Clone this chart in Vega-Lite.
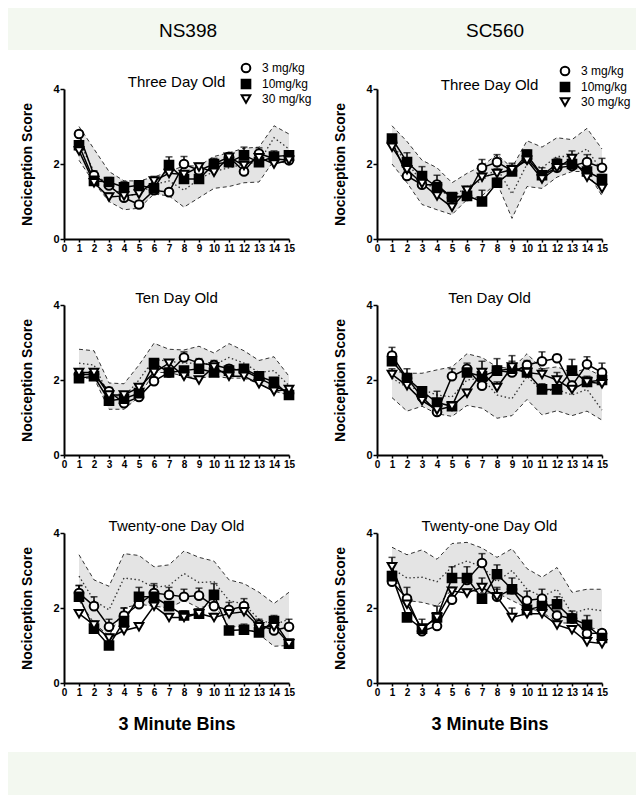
{
"$schema": "https://vega.github.io/schema/vega-lite/v6.json",
"padding": {"left": 8, "right": 8, "top": 8, "bottom": 6},
"background": "white",
"datasets": {
"band": [
{"p":"NS3","b":1,"lo":2.1,"mid":2.6,"hi":3.0},{"p":"NS3","b":2,"lo":1.5,"mid":1.8,"hi":2.4},{"p":"NS3","b":3,"lo":1.0,"mid":1.4,"hi":1.8},{"p":"NS3","b":4,"lo":0.78,"mid":1.15,"hi":1.55},{"p":"NS3","b":5,"lo":0.82,"mid":1.2,"hi":1.55},{"p":"NS3","b":6,"lo":1.2,"mid":1.45,"hi":1.65},{"p":"NS3","b":7,"lo":1.15,"mid":1.55,"hi":1.8},{"p":"NS3","b":8,"lo":0.85,"mid":1.3,"hi":1.95},{"p":"NS3","b":9,"lo":1.1,"mid":1.6,"hi":1.95},{"p":"NS3","b":10,"lo":1.35,"mid":1.8,"hi":2.2},{"p":"NS3","b":11,"lo":1.4,"mid":1.9,"hi":2.3},{"p":"NS3","b":12,"lo":1.5,"mid":2.0,"hi":2.42},{"p":"NS3","b":13,"lo":1.52,"mid":2.05,"hi":2.45},{"p":"NS3","b":14,"lo":2.1,"mid":2.7,"hi":3.02},{"p":"NS3","b":15,"lo":2.0,"mid":2.4,"hi":2.8},
{"p":"SC3","b":1,"lo":2.0,"mid":2.5,"hi":3.02},{"p":"SC3","b":2,"lo":1.5,"mid":2.05,"hi":2.6},{"p":"SC3","b":3,"lo":0.92,"mid":1.5,"hi":2.1},{"p":"SC3","b":4,"lo":0.78,"mid":1.35,"hi":1.9},{"p":"SC3","b":5,"lo":0.65,"mid":1.1,"hi":1.5},{"p":"SC3","b":6,"lo":1.05,"mid":1.4,"hi":1.75},{"p":"SC3","b":7,"lo":1.15,"mid":1.55,"hi":1.95},{"p":"SC3","b":8,"lo":1.5,"mid":1.9,"hi":2.25},{"p":"SC3","b":9,"lo":0.55,"mid":1.2,"hi":1.9},{"p":"SC3","b":10,"lo":1.4,"mid":2.0,"hi":2.62},{"p":"SC3","b":11,"lo":1.35,"mid":1.9,"hi":2.45},{"p":"SC3","b":12,"lo":1.65,"mid":2.2,"hi":2.7},{"p":"SC3","b":13,"lo":1.8,"mid":2.2,"hi":2.65},{"p":"SC3","b":14,"lo":1.8,"mid":2.4,"hi":2.95},{"p":"SC3","b":15,"lo":1.15,"mid":1.8,"hi":2.4},
{"p":"NS10","b":1,"lo":2.05,"mid":2.45,"hi":2.82},{"p":"NS10","b":2,"lo":2.05,"mid":2.4,"hi":2.78},{"p":"NS10","b":3,"lo":1.22,"mid":1.6,"hi":1.92},{"p":"NS10","b":4,"lo":1.22,"mid":1.55,"hi":1.9},{"p":"NS10","b":5,"lo":1.55,"mid":2.0,"hi":2.4},{"p":"NS10","b":6,"lo":2.2,"mid":2.55,"hi":2.98},{"p":"NS10","b":7,"lo":2.2,"mid":2.5,"hi":2.82},{"p":"NS10","b":8,"lo":2.1,"mid":2.45,"hi":2.8},{"p":"NS10","b":9,"lo":2.05,"mid":2.45,"hi":2.9},{"p":"NS10","b":10,"lo":2.1,"mid":2.4,"hi":2.72},{"p":"NS10","b":11,"lo":2.05,"mid":2.6,"hi":2.97},{"p":"NS10","b":12,"lo":2.05,"mid":2.45,"hi":2.78},{"p":"NS10","b":13,"lo":1.9,"mid":2.2,"hi":2.52},{"p":"NS10","b":14,"lo":1.7,"mid":2.25,"hi":2.62},{"p":"NS10","b":15,"lo":1.6,"mid":1.85,"hi":2.1},
{"p":"SC10","b":1,"lo":1.53,"mid":2.05,"hi":2.25},{"p":"SC10","b":2,"lo":1.17,"mid":1.8,"hi":2.18},{"p":"SC10","b":3,"lo":1.3,"mid":1.75,"hi":2.18},{"p":"SC10","b":4,"lo":1.1,"mid":1.6,"hi":2.27},{"p":"SC10","b":5,"lo":1.03,"mid":1.55,"hi":2.35},{"p":"SC10","b":6,"lo":1.32,"mid":2.0,"hi":2.7},{"p":"SC10","b":7,"lo":1.25,"mid":2.05,"hi":2.6},{"p":"SC10","b":8,"lo":0.98,"mid":1.6,"hi":2.35},{"p":"SC10","b":9,"lo":1.05,"mid":1.5,"hi":2.3},{"p":"SC10","b":10,"lo":1.48,"mid":2.1,"hi":2.7},{"p":"SC10","b":11,"lo":1.07,"mid":1.7,"hi":2.3},{"p":"SC10","b":12,"lo":1.18,"mid":1.75,"hi":2.35},{"p":"SC10","b":13,"lo":1.05,"mid":1.6,"hi":2.2},{"p":"SC10","b":14,"lo":1.17,"mid":1.75,"hi":2.3},{"p":"SC10","b":15,"lo":0.93,"mid":1.2,"hi":2.1},
{"p":"NS21","b":1,"lo":2.2,"mid":2.85,"hi":3.42},{"p":"NS21","b":2,"lo":1.6,"mid":2.2,"hi":2.75},{"p":"NS21","b":3,"lo":1.25,"mid":1.95,"hi":2.58},{"p":"NS21","b":4,"lo":2.0,"mid":2.8,"hi":3.45},{"p":"NS21","b":5,"lo":2.1,"mid":2.75,"hi":3.4},{"p":"NS21","b":6,"lo":2.05,"mid":2.55,"hi":3.1},{"p":"NS21","b":7,"lo":2.0,"mid":2.6,"hi":3.15},{"p":"NS21","b":8,"lo":2.2,"mid":2.92,"hi":3.52},{"p":"NS21","b":9,"lo":2.0,"mid":2.68,"hi":3.35},{"p":"NS21","b":10,"lo":2.1,"mid":2.7,"hi":3.25},{"p":"NS21","b":11,"lo":1.5,"mid":2.2,"hi":2.75},{"p":"NS21","b":12,"lo":1.5,"mid":2.1,"hi":2.65},{"p":"NS21","b":13,"lo":1.3,"mid":1.7,"hi":2.42},{"p":"NS21","b":14,"lo":0.98,"mid":1.55,"hi":2.12},{"p":"NS21","b":15,"lo":1.0,"mid":1.7,"hi":2.42},
{"p":"SC21","b":1,"lo":2.9,"mid":3.05,"hi":3.62},{"p":"SC21","b":2,"lo":2.2,"mid":2.8,"hi":3.42},{"p":"SC21","b":3,"lo":2.15,"mid":2.82,"hi":3.55},{"p":"SC21","b":4,"lo":2.05,"mid":2.7,"hi":3.3},{"p":"SC21","b":5,"lo":2.5,"mid":3.1,"hi":3.72},{"p":"SC21","b":6,"lo":2.5,"mid":3.25,"hi":3.75},{"p":"SC21","b":7,"lo":2.4,"mid":3.1,"hi":3.6},{"p":"SC21","b":8,"lo":2.4,"mid":2.7,"hi":3.35},{"p":"SC21","b":9,"lo":2.2,"mid":3.0,"hi":3.58},{"p":"SC21","b":10,"lo":2.0,"mid":2.5,"hi":3.05},{"p":"SC21","b":11,"lo":1.9,"mid":2.3,"hi":2.82},{"p":"SC21","b":12,"lo":1.6,"mid":2.5,"hi":3.08},{"p":"SC21","b":13,"lo":1.6,"mid":1.85,"hi":2.42},{"p":"SC21","b":14,"lo":1.5,"mid":1.98,"hi":2.5},{"p":"SC21","b":15,"lo":1.4,"mid":1.93,"hi":2.5}
],
"drug": [
{"p":"NS3","d":"3 mg/kg","b":1,"m":2.8,"u":2.88},{"p":"NS3","d":"3 mg/kg","b":2,"m":1.7,"u":1.82},{"p":"NS3","d":"3 mg/kg","b":3,"m":1.43,"u":1.53},{"p":"NS3","d":"3 mg/kg","b":4,"m":1.1,"u":1.2},{"p":"NS3","d":"3 mg/kg","b":5,"m":0.92,"u":1.0},{"p":"NS3","d":"3 mg/kg","b":6,"m":1.3,"u":1.4},{"p":"NS3","d":"3 mg/kg","b":7,"m":1.25,"u":1.33},{"p":"NS3","d":"3 mg/kg","b":8,"m":2.0,"u":2.2},{"p":"NS3","d":"3 mg/kg","b":9,"m":1.83,"u":1.95},{"p":"NS3","d":"3 mg/kg","b":10,"m":2.0,"u":2.12},{"p":"NS3","d":"3 mg/kg","b":11,"m":2.19,"u":2.29},{"p":"NS3","d":"3 mg/kg","b":12,"m":1.8,"u":1.9},{"p":"NS3","d":"3 mg/kg","b":13,"m":2.28,"u":2.43},{"p":"NS3","d":"3 mg/kg","b":14,"m":2.14,"u":2.24},{"p":"NS3","d":"3 mg/kg","b":15,"m":2.1,"u":2.2},
{"p":"NS3","d":"10mg/kg","b":1,"m":2.5,"u":2.62},{"p":"NS3","d":"10mg/kg","b":2,"m":1.55,"u":1.75},{"p":"NS3","d":"10mg/kg","b":3,"m":1.52,"u":1.64},{"p":"NS3","d":"10mg/kg","b":4,"m":1.38,"u":1.53},{"p":"NS3","d":"10mg/kg","b":5,"m":1.43,"u":1.55},{"p":"NS3","d":"10mg/kg","b":6,"m":1.35,"u":1.47},{"p":"NS3","d":"10mg/kg","b":7,"m":1.97,"u":2.19},{"p":"NS3","d":"10mg/kg","b":8,"m":1.6,"u":1.72},{"p":"NS3","d":"10mg/kg","b":9,"m":1.6,"u":1.72},{"p":"NS3","d":"10mg/kg","b":10,"m":2.0,"u":2.15},{"p":"NS3","d":"10mg/kg","b":11,"m":2.05,"u":2.15},{"p":"NS3","d":"10mg/kg","b":12,"m":2.23,"u":2.45},{"p":"NS3","d":"10mg/kg","b":13,"m":2.05,"u":2.17},{"p":"NS3","d":"10mg/kg","b":14,"m":2.2,"u":2.35},{"p":"NS3","d":"10mg/kg","b":15,"m":2.23,"u":2.33},
{"p":"NS3","d":"30 mg/kg","b":1,"m":2.35,"u":2.45},{"p":"NS3","d":"30 mg/kg","b":2,"m":1.5,"u":1.6},{"p":"NS3","d":"30 mg/kg","b":3,"m":1.12,"u":1.22},{"p":"NS3","d":"30 mg/kg","b":4,"m":1.15,"u":1.25},{"p":"NS3","d":"30 mg/kg","b":5,"m":1.2,"u":1.32},{"p":"NS3","d":"30 mg/kg","b":6,"m":1.55,"u":1.67},{"p":"NS3","d":"30 mg/kg","b":7,"m":1.75,"u":1.87},{"p":"NS3","d":"30 mg/kg","b":8,"m":1.72,"u":1.82},{"p":"NS3","d":"30 mg/kg","b":9,"m":1.92,"u":2.02},{"p":"NS3","d":"30 mg/kg","b":10,"m":1.78,"u":1.88},{"p":"NS3","d":"30 mg/kg","b":11,"m":2.18,"u":2.28},{"p":"NS3","d":"30 mg/kg","b":12,"m":1.96,"u":2.06},{"p":"NS3","d":"30 mg/kg","b":13,"m":2.17,"u":2.27},{"p":"NS3","d":"30 mg/kg","b":14,"m":2.0,"u":2.1},{"p":"NS3","d":"30 mg/kg","b":15,"m":2.1,"u":2.2},
{"p":"SC3","d":"3 mg/kg","b":1,"m":2.6,"u":2.7},{"p":"SC3","d":"3 mg/kg","b":2,"m":1.68,"u":1.8},{"p":"SC3","d":"3 mg/kg","b":3,"m":1.45,"u":1.57},{"p":"SC3","d":"3 mg/kg","b":4,"m":1.45,"u":1.7},{"p":"SC3","d":"3 mg/kg","b":5,"m":1.1,"u":1.22},{"p":"SC3","d":"3 mg/kg","b":6,"m":1.15,"u":1.25},{"p":"SC3","d":"3 mg/kg","b":7,"m":1.9,"u":2.12},{"p":"SC3","d":"3 mg/kg","b":8,"m":2.05,"u":2.25},{"p":"SC3","d":"3 mg/kg","b":9,"m":1.82,"u":2.02},{"p":"SC3","d":"3 mg/kg","b":10,"m":2.15,"u":2.3},{"p":"SC3","d":"3 mg/kg","b":11,"m":1.7,"u":1.9},{"p":"SC3","d":"3 mg/kg","b":12,"m":1.9,"u":2.1},{"p":"SC3","d":"3 mg/kg","b":13,"m":1.95,"u":2.15},{"p":"SC3","d":"3 mg/kg","b":14,"m":2.05,"u":2.25},{"p":"SC3","d":"3 mg/kg","b":15,"m":1.9,"u":2.15},
{"p":"SC3","d":"10mg/kg","b":1,"m":2.68,"u":2.78},{"p":"SC3","d":"10mg/kg","b":2,"m":2.05,"u":2.3},{"p":"SC3","d":"10mg/kg","b":3,"m":1.68,"u":1.93},{"p":"SC3","d":"10mg/kg","b":4,"m":1.38,"u":1.53},{"p":"SC3","d":"10mg/kg","b":5,"m":1.12,"u":1.22},{"p":"SC3","d":"10mg/kg","b":6,"m":1.15,"u":1.25},{"p":"SC3","d":"10mg/kg","b":7,"m":1.0,"u":1.3},{"p":"SC3","d":"10mg/kg","b":8,"m":1.5,"u":1.62},{"p":"SC3","d":"10mg/kg","b":9,"m":1.8,"u":1.92},{"p":"SC3","d":"10mg/kg","b":10,"m":2.25,"u":2.37},{"p":"SC3","d":"10mg/kg","b":11,"m":1.7,"u":1.82},{"p":"SC3","d":"10mg/kg","b":12,"m":2.0,"u":2.15},{"p":"SC3","d":"10mg/kg","b":13,"m":2.0,"u":2.15},{"p":"SC3","d":"10mg/kg","b":14,"m":1.8,"u":1.92},{"p":"SC3","d":"10mg/kg","b":15,"m":1.6,"u":1.72},
{"p":"SC3","d":"30 mg/kg","b":1,"m":2.45,"u":2.55},{"p":"SC3","d":"30 mg/kg","b":2,"m":1.85,"u":1.95},{"p":"SC3","d":"30 mg/kg","b":3,"m":1.48,"u":1.58},{"p":"SC3","d":"30 mg/kg","b":4,"m":1.15,"u":1.25},{"p":"SC3","d":"30 mg/kg","b":5,"m":0.85,"u":0.95},{"p":"SC3","d":"30 mg/kg","b":6,"m":1.3,"u":1.4},{"p":"SC3","d":"30 mg/kg","b":7,"m":1.65,"u":1.8},{"p":"SC3","d":"30 mg/kg","b":8,"m":1.75,"u":1.87},{"p":"SC3","d":"30 mg/kg","b":9,"m":1.85,"u":1.97},{"p":"SC3","d":"30 mg/kg","b":10,"m":2.1,"u":2.2},{"p":"SC3","d":"30 mg/kg","b":11,"m":1.6,"u":1.72},{"p":"SC3","d":"30 mg/kg","b":12,"m":1.9,"u":2.0},{"p":"SC3","d":"30 mg/kg","b":13,"m":2.15,"u":2.35},{"p":"SC3","d":"30 mg/kg","b":14,"m":1.65,"u":1.77},{"p":"SC3","d":"30 mg/kg","b":15,"m":1.35,"u":1.47},
{"p":"NS10","d":"3 mg/kg","b":1,"m":2.15,"u":2.23},{"p":"NS10","d":"3 mg/kg","b":2,"m":2.15,"u":2.23},{"p":"NS10","d":"3 mg/kg","b":3,"m":1.7,"u":1.8},{"p":"NS10","d":"3 mg/kg","b":4,"m":1.38,"u":1.46},{"p":"NS10","d":"3 mg/kg","b":5,"m":1.55,"u":1.65},{"p":"NS10","d":"3 mg/kg","b":6,"m":1.97,"u":2.07},{"p":"NS10","d":"3 mg/kg","b":7,"m":2.2,"u":2.3},{"p":"NS10","d":"3 mg/kg","b":8,"m":2.6,"u":2.75},{"p":"NS10","d":"3 mg/kg","b":9,"m":2.45,"u":2.57},{"p":"NS10","d":"3 mg/kg","b":10,"m":2.4,"u":2.52},{"p":"NS10","d":"3 mg/kg","b":11,"m":2.3,"u":2.4},{"p":"NS10","d":"3 mg/kg","b":12,"m":2.25,"u":2.35},{"p":"NS10","d":"3 mg/kg","b":13,"m":2.05,"u":2.15},{"p":"NS10","d":"3 mg/kg","b":14,"m":1.85,"u":1.95},{"p":"NS10","d":"3 mg/kg","b":15,"m":1.65,"u":1.73},
{"p":"NS10","d":"10mg/kg","b":1,"m":2.05,"u":2.15},{"p":"NS10","d":"10mg/kg","b":2,"m":2.1,"u":2.18},{"p":"NS10","d":"10mg/kg","b":3,"m":1.45,"u":1.55},{"p":"NS10","d":"10mg/kg","b":4,"m":1.5,"u":1.6},{"p":"NS10","d":"10mg/kg","b":5,"m":1.65,"u":1.75},{"p":"NS10","d":"10mg/kg","b":6,"m":2.45,"u":2.55},{"p":"NS10","d":"10mg/kg","b":7,"m":2.2,"u":2.28},{"p":"NS10","d":"10mg/kg","b":8,"m":2.25,"u":2.35},{"p":"NS10","d":"10mg/kg","b":9,"m":2.3,"u":2.4},{"p":"NS10","d":"10mg/kg","b":10,"m":2.2,"u":2.32},{"p":"NS10","d":"10mg/kg","b":11,"m":2.25,"u":2.35},{"p":"NS10","d":"10mg/kg","b":12,"m":2.3,"u":2.4},{"p":"NS10","d":"10mg/kg","b":13,"m":2.1,"u":2.22},{"p":"NS10","d":"10mg/kg","b":14,"m":1.95,"u":2.05},{"p":"NS10","d":"10mg/kg","b":15,"m":1.6,"u":1.68},
{"p":"NS10","d":"30 mg/kg","b":1,"m":2.2,"u":2.28},{"p":"NS10","d":"30 mg/kg","b":2,"m":2.2,"u":2.28},{"p":"NS10","d":"30 mg/kg","b":3,"m":1.6,"u":1.68},{"p":"NS10","d":"30 mg/kg","b":4,"m":1.6,"u":1.68},{"p":"NS10","d":"30 mg/kg","b":5,"m":1.8,"u":1.88},{"p":"NS10","d":"30 mg/kg","b":6,"m":2.2,"u":2.28},{"p":"NS10","d":"30 mg/kg","b":7,"m":2.45,"u":2.53},{"p":"NS10","d":"30 mg/kg","b":8,"m":2.1,"u":2.18},{"p":"NS10","d":"30 mg/kg","b":9,"m":2.0,"u":2.08},{"p":"NS10","d":"30 mg/kg","b":10,"m":2.35,"u":2.43},{"p":"NS10","d":"30 mg/kg","b":11,"m":2.1,"u":2.18},{"p":"NS10","d":"30 mg/kg","b":12,"m":2.1,"u":2.18},{"p":"NS10","d":"30 mg/kg","b":13,"m":1.9,"u":1.98},{"p":"NS10","d":"30 mg/kg","b":14,"m":1.7,"u":1.78},{"p":"NS10","d":"30 mg/kg","b":15,"m":1.75,"u":1.83},
{"p":"SC10","d":"3 mg/kg","b":1,"m":2.65,"u":2.87},{"p":"SC10","d":"3 mg/kg","b":2,"m":2.05,"u":2.15},{"p":"SC10","d":"3 mg/kg","b":3,"m":1.55,"u":1.65},{"p":"SC10","d":"3 mg/kg","b":4,"m":1.15,"u":1.25},{"p":"SC10","d":"3 mg/kg","b":5,"m":2.1,"u":2.3},{"p":"SC10","d":"3 mg/kg","b":6,"m":2.3,"u":2.45},{"p":"SC10","d":"3 mg/kg","b":7,"m":1.85,"u":1.97},{"p":"SC10","d":"3 mg/kg","b":8,"m":2.25,"u":2.37},{"p":"SC10","d":"3 mg/kg","b":9,"m":2.2,"u":2.35},{"p":"SC10","d":"3 mg/kg","b":10,"m":2.4,"u":2.52},{"p":"SC10","d":"3 mg/kg","b":11,"m":2.5,"u":2.75},{"p":"SC10","d":"3 mg/kg","b":12,"m":2.58,"u":2.68},{"p":"SC10","d":"3 mg/kg","b":13,"m":1.85,"u":1.97},{"p":"SC10","d":"3 mg/kg","b":14,"m":2.42,"u":2.62},{"p":"SC10","d":"3 mg/kg","b":15,"m":2.2,"u":2.45},
{"p":"SC10","d":"10mg/kg","b":1,"m":2.5,"u":2.7},{"p":"SC10","d":"10mg/kg","b":2,"m":2.05,"u":2.3},{"p":"SC10","d":"10mg/kg","b":3,"m":1.7,"u":1.8},{"p":"SC10","d":"10mg/kg","b":4,"m":1.4,"u":1.7},{"p":"SC10","d":"10mg/kg","b":5,"m":1.3,"u":1.42},{"p":"SC10","d":"10mg/kg","b":6,"m":2.2,"u":2.32},{"p":"SC10","d":"10mg/kg","b":7,"m":2.1,"u":2.22},{"p":"SC10","d":"10mg/kg","b":8,"m":2.25,"u":2.57},{"p":"SC10","d":"10mg/kg","b":9,"m":2.3,"u":2.65},{"p":"SC10","d":"10mg/kg","b":10,"m":2.2,"u":2.3},{"p":"SC10","d":"10mg/kg","b":11,"m":1.75,"u":1.9},{"p":"SC10","d":"10mg/kg","b":12,"m":1.75,"u":1.87},{"p":"SC10","d":"10mg/kg","b":13,"m":2.25,"u":2.55},{"p":"SC10","d":"10mg/kg","b":14,"m":1.95,"u":2.05},{"p":"SC10","d":"10mg/kg","b":15,"m":2.0,"u":2.1},
{"p":"SC10","d":"30 mg/kg","b":1,"m":2.15,"u":2.3},{"p":"SC10","d":"30 mg/kg","b":2,"m":1.85,"u":1.95},{"p":"SC10","d":"30 mg/kg","b":3,"m":1.45,"u":1.55},{"p":"SC10","d":"30 mg/kg","b":4,"m":1.2,"u":1.3},{"p":"SC10","d":"30 mg/kg","b":5,"m":1.3,"u":1.4},{"p":"SC10","d":"30 mg/kg","b":6,"m":1.65,"u":1.75},{"p":"SC10","d":"30 mg/kg","b":7,"m":2.2,"u":2.5},{"p":"SC10","d":"30 mg/kg","b":8,"m":1.8,"u":1.95},{"p":"SC10","d":"30 mg/kg","b":9,"m":2.35,"u":2.5},{"p":"SC10","d":"30 mg/kg","b":10,"m":2.2,"u":2.35},{"p":"SC10","d":"30 mg/kg","b":11,"m":2.15,"u":2.3},{"p":"SC10","d":"30 mg/kg","b":12,"m":2.0,"u":2.2},{"p":"SC10","d":"30 mg/kg","b":13,"m":1.75,"u":1.85},{"p":"SC10","d":"30 mg/kg","b":14,"m":1.95,"u":2.1},{"p":"SC10","d":"30 mg/kg","b":15,"m":1.9,"u":2.0},
{"p":"NS21","d":"3 mg/kg","b":1,"m":2.4,"u":2.6},{"p":"NS21","d":"3 mg/kg","b":2,"m":2.05,"u":2.3},{"p":"NS21","d":"3 mg/kg","b":3,"m":1.5,"u":1.7},{"p":"NS21","d":"3 mg/kg","b":4,"m":1.8,"u":2.0},{"p":"NS21","d":"3 mg/kg","b":5,"m":2.1,"u":2.3},{"p":"NS21","d":"3 mg/kg","b":6,"m":2.4,"u":2.65},{"p":"NS21","d":"3 mg/kg","b":7,"m":2.35,"u":2.55},{"p":"NS21","d":"3 mg/kg","b":8,"m":2.3,"u":2.5},{"p":"NS21","d":"3 mg/kg","b":9,"m":2.33,"u":2.53},{"p":"NS21","d":"3 mg/kg","b":10,"m":2.05,"u":2.25},{"p":"NS21","d":"3 mg/kg","b":11,"m":1.95,"u":2.15},{"p":"NS21","d":"3 mg/kg","b":12,"m":2.05,"u":2.25},{"p":"NS21","d":"3 mg/kg","b":13,"m":1.55,"u":1.7},{"p":"NS21","d":"3 mg/kg","b":14,"m":1.4,"u":1.55},{"p":"NS21","d":"3 mg/kg","b":15,"m":1.5,"u":1.7},
{"p":"NS21","d":"10mg/kg","b":1,"m":2.3,"u":2.6},{"p":"NS21","d":"10mg/kg","b":2,"m":1.45,"u":1.55},{"p":"NS21","d":"10mg/kg","b":3,"m":1.0,"u":1.1},{"p":"NS21","d":"10mg/kg","b":4,"m":1.65,"u":2.0},{"p":"NS21","d":"10mg/kg","b":5,"m":2.3,"u":2.55},{"p":"NS21","d":"10mg/kg","b":6,"m":2.3,"u":2.6},{"p":"NS21","d":"10mg/kg","b":7,"m":2.05,"u":2.15},{"p":"NS21","d":"10mg/kg","b":8,"m":1.8,"u":1.92},{"p":"NS21","d":"10mg/kg","b":9,"m":1.85,"u":1.97},{"p":"NS21","d":"10mg/kg","b":10,"m":2.35,"u":2.65},{"p":"NS21","d":"10mg/kg","b":11,"m":1.4,"u":1.5},{"p":"NS21","d":"10mg/kg","b":12,"m":1.42,"u":1.57},{"p":"NS21","d":"10mg/kg","b":13,"m":1.35,"u":1.45},{"p":"NS21","d":"10mg/kg","b":14,"m":1.65,"u":1.8},{"p":"NS21","d":"10mg/kg","b":15,"m":1.05,"u":1.13},
{"p":"NS21","d":"30 mg/kg","b":1,"m":1.85,"u":1.95},{"p":"NS21","d":"30 mg/kg","b":2,"m":1.55,"u":1.65},{"p":"NS21","d":"30 mg/kg","b":3,"m":1.2,"u":1.3},{"p":"NS21","d":"30 mg/kg","b":4,"m":1.4,"u":1.5},{"p":"NS21","d":"30 mg/kg","b":5,"m":1.5,"u":1.6},{"p":"NS21","d":"30 mg/kg","b":6,"m":2.05,"u":2.15},{"p":"NS21","d":"30 mg/kg","b":7,"m":1.75,"u":1.85},{"p":"NS21","d":"30 mg/kg","b":8,"m":1.75,"u":1.85},{"p":"NS21","d":"30 mg/kg","b":9,"m":1.85,"u":1.95},{"p":"NS21","d":"30 mg/kg","b":10,"m":1.75,"u":1.85},{"p":"NS21","d":"30 mg/kg","b":11,"m":1.85,"u":1.95},{"p":"NS21","d":"30 mg/kg","b":12,"m":1.9,"u":2.0},{"p":"NS21","d":"30 mg/kg","b":13,"m":1.5,"u":1.6},{"p":"NS21","d":"30 mg/kg","b":14,"m":1.5,"u":1.6},{"p":"NS21","d":"30 mg/kg","b":15,"m":1.05,"u":1.15},
{"p":"SC21","d":"3 mg/kg","b":1,"m":2.7,"u":2.8},{"p":"SC21","d":"3 mg/kg","b":2,"m":2.25,"u":2.55},{"p":"SC21","d":"3 mg/kg","b":3,"m":1.38,"u":1.48},{"p":"SC21","d":"3 mg/kg","b":4,"m":1.52,"u":1.62},{"p":"SC21","d":"3 mg/kg","b":5,"m":2.22,"u":2.32},{"p":"SC21","d":"3 mg/kg","b":6,"m":2.75,"u":2.85},{"p":"SC21","d":"3 mg/kg","b":7,"m":3.2,"u":3.45},{"p":"SC21","d":"3 mg/kg","b":8,"m":2.3,"u":2.55},{"p":"SC21","d":"3 mg/kg","b":9,"m":2.5,"u":2.6},{"p":"SC21","d":"3 mg/kg","b":10,"m":2.2,"u":2.45},{"p":"SC21","d":"3 mg/kg","b":11,"m":2.25,"u":2.5},{"p":"SC21","d":"3 mg/kg","b":12,"m":1.8,"u":1.92},{"p":"SC21","d":"3 mg/kg","b":13,"m":1.72,"u":1.84},{"p":"SC21","d":"3 mg/kg","b":14,"m":1.32,"u":1.42},{"p":"SC21","d":"3 mg/kg","b":15,"m":1.33,"u":1.41},
{"p":"SC21","d":"10mg/kg","b":1,"m":2.85,"u":2.97},{"p":"SC21","d":"10mg/kg","b":2,"m":1.75,"u":1.85},{"p":"SC21","d":"10mg/kg","b":3,"m":1.45,"u":1.7},{"p":"SC21","d":"10mg/kg","b":4,"m":1.75,"u":2.05},{"p":"SC21","d":"10mg/kg","b":5,"m":2.8,"u":3.1},{"p":"SC21","d":"10mg/kg","b":6,"m":2.8,"u":3.1},{"p":"SC21","d":"10mg/kg","b":7,"m":2.25,"u":2.35},{"p":"SC21","d":"10mg/kg","b":8,"m":2.9,"u":3.15},{"p":"SC21","d":"10mg/kg","b":9,"m":2.5,"u":2.8},{"p":"SC21","d":"10mg/kg","b":10,"m":1.95,"u":2.1},{"p":"SC21","d":"10mg/kg","b":11,"m":2.05,"u":2.15},{"p":"SC21","d":"10mg/kg","b":12,"m":2.1,"u":2.3},{"p":"SC21","d":"10mg/kg","b":13,"m":1.72,"u":1.92},{"p":"SC21","d":"10mg/kg","b":14,"m":1.55,"u":1.8},{"p":"SC21","d":"10mg/kg","b":15,"m":1.2,"u":1.3},
{"p":"SC21","d":"30 mg/kg","b":1,"m":3.1,"u":3.35},{"p":"SC21","d":"30 mg/kg","b":2,"m":2.1,"u":2.2},{"p":"SC21","d":"30 mg/kg","b":3,"m":1.45,"u":1.55},{"p":"SC21","d":"30 mg/kg","b":4,"m":1.75,"u":1.85},{"p":"SC21","d":"30 mg/kg","b":5,"m":2.45,"u":2.55},{"p":"SC21","d":"30 mg/kg","b":6,"m":2.4,"u":2.5},{"p":"SC21","d":"30 mg/kg","b":7,"m":2.55,"u":2.8},{"p":"SC21","d":"30 mg/kg","b":8,"m":2.3,"u":2.5},{"p":"SC21","d":"30 mg/kg","b":9,"m":1.75,"u":2.0},{"p":"SC21","d":"30 mg/kg","b":10,"m":1.85,"u":1.95},{"p":"SC21","d":"30 mg/kg","b":11,"m":1.85,"u":1.95},{"p":"SC21","d":"30 mg/kg","b":12,"m":1.55,"u":1.65},{"p":"SC21","d":"30 mg/kg","b":13,"m":1.42,"u":1.52},{"p":"SC21","d":"30 mg/kg","b":14,"m":1.1,"u":1.2},{"p":"SC21","d":"30 mg/kg","b":15,"m":1.05,"u":1.15}
],
"blank": [{"h": ""}]
},
"columns": 5,
"bounds": "flush",
"align": "each",
"spacing": {"row": 0, "column": 0},
"resolve": {"scale": {"x": "independent", "y": "independent", "shape": "independent", "fill": "independent"}, "legend": {"shape": "independent", "fill": "independent"}},
"concat": [
{"width": 56, "height": 42, "view": {"fill": "#f3f8f0", "stroke": null}, "data": {"name": "blank"}, "mark": {"type": "text"}, "encoding": {"text": {"field": "h"}}},
{"width": 225, "height": 42, "view": {"fill": "#f3f8f0", "stroke": null}, "data": {"values": [{"h": "NS398"}]}, "mark": {"type": "text", "fontSize": 19, "color": "black", "baseline": "middle", "dx": 11.5, "dy": 2}, "encoding": {"text": {"field": "h"}}},
{"width": 88, "height": 42, "view": {"fill": "#f3f8f0", "stroke": null}, "data": {"name": "blank"}, "mark": {"type": "text"}, "encoding": {"text": {"field": "h"}}},
{"width": 225, "height": 42, "view": {"fill": "#f3f8f0", "stroke": null}, "data": {"values": [{"h": "SC560"}]}, "mark": {"type": "text", "fontSize": 19, "color": "black", "baseline": "middle", "dx": 5.5, "dy": 2}, "encoding": {"text": {"field": "h"}}},
{"width": 34, "height": 42, "view": {"fill": "#f3f8f0", "stroke": null}, "data": {"name": "blank"}, "mark": {"type": "text"}, "encoding": {"text": {"field": "h"}}},

{"width": 1, "height": 39, "data": {"name": "blank"}, "mark": {"type": "text"}, "encoding": {"text": {"field": "h"}}},
{"width": 1, "height": 1, "data": {"name": "blank"}, "mark": {"type": "text"}, "encoding": {"text": {"field": "h"}}},
{"width": 1, "height": 1, "data": {"name": "blank"}, "mark": {"type": "text"}, "encoding": {"text": {"field": "h"}}},
{"width": 1, "height": 1, "data": {"name": "blank"}, "mark": {"type": "text"}, "encoding": {"text": {"field": "h"}}},
{"width": 1, "height": 1, "data": {"name": "blank"}, "mark": {"type": "text"}, "encoding": {"text": {"field": "h"}}},

{"width": 1, "height": 1, "data": {"name": "blank"}, "mark": {"type": "text"}, "encoding": {"text": {"field": "h"}}},
{
 "width": 225, "height": 150, "title": {"text": "Three Day Old", "offset": -28},
 "encoding": {"x": {"field": "b", "type": "quantitative", "scale": {"domain": [0, 15], "nice": false}, "axis": {"values": [0,1,2,3,4,5,6,7,8,9,10,11,12,13,14,15], "title": null}}},
 "layer": [
  {"data": {"name": "band"}, "transform": [{"filter": {"field": "p", "equal": "NS3"}}], "mark": {"type": "area", "color": "#e4e4e4"}, "encoding": {"y": {"field": "lo", "type": "quantitative", "scale": {"domain": [0, 4], "nice": false}, "axis": {"values": [0,1,2,3,4]}, "title": "Nociception Score"}, "y2": {"field": "hi"}}},
  {"data": {"name": "band"}, "transform": [{"filter": {"field": "p", "equal": "NS3"}}], "mark": {"type": "line", "color": "#333", "strokeWidth": 1, "strokeDash": [4, 3]}, "encoding": {"y": {"field": "hi", "type": "quantitative", "title": "Nociception Score"}}},
  {"data": {"name": "band"}, "transform": [{"filter": {"field": "p", "equal": "NS3"}}], "mark": {"type": "line", "color": "#333", "strokeWidth": 1, "strokeDash": [4, 3]}, "encoding": {"y": {"field": "lo", "type": "quantitative", "title": "Nociception Score"}}},
  {"data": {"name": "band"}, "transform": [{"filter": {"field": "p", "equal": "NS3"}}], "mark": {"type": "line", "color": "#333", "strokeWidth": 1.3, "strokeDash": [1.5, 2.5]}, "encoding": {"y": {"field": "mid", "type": "quantitative", "title": "Nociception Score"}}},
  {"data": {"name": "drug"}, "transform": [{"filter": {"field": "p", "equal": "NS3"}}], "mark": {"type": "line", "color": "black", "strokeWidth": 1.5}, "encoding": {"y": {"field": "m", "type": "quantitative", "title": "Nociception Score"}, "detail": {"field": "d"}}},
  {"data": {"name": "drug"}, "transform": [{"filter": {"field": "p", "equal": "NS3"}}], "mark": {"type": "rule", "color": "black", "strokeWidth": 1.5}, "encoding": {"y": {"field": "m", "type": "quantitative", "title": "Nociception Score"}, "y2": {"field": "u"}}},
  {"data": {"name": "drug"}, "transform": [{"filter": {"field": "p", "equal": "NS3"}}], "mark": {"type": "tick", "orient": "horizontal", "size": 7, "thickness": 1.5, "color": "black"}, "encoding": {"y": {"field": "u", "type": "quantitative", "title": "Nociception Score"}}},
  {"data": {"name": "drug"}, "transform": [{"filter": {"field": "p", "equal": "NS3"}}], "mark": {"type": "point", "filled": false, "color": "black", "size": 75, "strokeWidth": 2, "opacity": 1}, "encoding": {"y": {"field": "m", "type": "quantitative", "title": "Nociception Score"},
    "shape": {"field": "d", "type": "nominal", "scale": {"domain": ["3 mg/kg", "10mg/kg", "30 mg/kg"], "range": ["circle", "square", "triangle-down"]}, "legend": {"orient": "none", "legendX": 176, "legendY": -27, "title": null, "padding": 0, "rowPadding": -2, "labelFontSize": 12, "labelOffset": 10, "symbolStrokeWidth": 2, "symbolSize": 75, "labelExpr": "datum.label === '3 mg/kg' ? '\u00a03 mg/kg' : datum.label"}},
    "fill": {"field": "d", "type": "nominal", "scale": {"domain": ["3 mg/kg", "10mg/kg", "30 mg/kg"], "range": ["white", "black", "white"]}, "legend": {"orient": "none", "legendX": 176, "legendY": -27, "title": null, "padding": 0, "rowPadding": -2, "labelFontSize": 12, "labelOffset": 10, "symbolStrokeWidth": 2, "symbolSize": 75, "labelExpr": "datum.label === '3 mg/kg' ? '\u00a03 mg/kg' : datum.label"}}}}
 ]
},
{"width": 1, "height": 1, "data": {"name": "blank"}, "mark": {"type": "text"}, "encoding": {"text": {"field": "h"}}},
{
 "width": 225, "height": 150, "title": {"text": "Three Day Old", "offset": -28},
 "encoding": {"x": {"field": "b", "type": "quantitative", "scale": {"domain": [0, 15], "nice": false}, "axis": {"values": [0,1,2,3,4,5,6,7,8,9,10,11,12,13,14,15], "title": null}}},
 "layer": [
  {"data": {"name": "band"}, "transform": [{"filter": {"field": "p", "equal": "SC3"}}], "mark": {"type": "area", "color": "#e4e4e4"}, "encoding": {"y": {"field": "lo", "type": "quantitative", "scale": {"domain": [0, 4], "nice": false}, "axis": {"values": [0,1,2,3,4]}, "title": "Nociception Score"}, "y2": {"field": "hi"}}},
  {"data": {"name": "band"}, "transform": [{"filter": {"field": "p", "equal": "SC3"}}], "mark": {"type": "line", "color": "#333", "strokeWidth": 1, "strokeDash": [4, 3]}, "encoding": {"y": {"field": "hi", "type": "quantitative", "title": "Nociception Score"}}},
  {"data": {"name": "band"}, "transform": [{"filter": {"field": "p", "equal": "SC3"}}], "mark": {"type": "line", "color": "#333", "strokeWidth": 1, "strokeDash": [4, 3]}, "encoding": {"y": {"field": "lo", "type": "quantitative", "title": "Nociception Score"}}},
  {"data": {"name": "band"}, "transform": [{"filter": {"field": "p", "equal": "SC3"}}], "mark": {"type": "line", "color": "#333", "strokeWidth": 1.3, "strokeDash": [1.5, 2.5]}, "encoding": {"y": {"field": "mid", "type": "quantitative", "title": "Nociception Score"}}},
  {"data": {"name": "drug"}, "transform": [{"filter": {"field": "p", "equal": "SC3"}}], "mark": {"type": "line", "color": "black", "strokeWidth": 1.5}, "encoding": {"y": {"field": "m", "type": "quantitative", "title": "Nociception Score"}, "detail": {"field": "d"}}},
  {"data": {"name": "drug"}, "transform": [{"filter": {"field": "p", "equal": "SC3"}}], "mark": {"type": "rule", "color": "black", "strokeWidth": 1.5}, "encoding": {"y": {"field": "m", "type": "quantitative", "title": "Nociception Score"}, "y2": {"field": "u"}}},
  {"data": {"name": "drug"}, "transform": [{"filter": {"field": "p", "equal": "SC3"}}], "mark": {"type": "tick", "orient": "horizontal", "size": 7, "thickness": 1.5, "color": "black"}, "encoding": {"y": {"field": "u", "type": "quantitative", "title": "Nociception Score"}}},
  {"data": {"name": "drug"}, "transform": [{"filter": {"field": "p", "equal": "SC3"}}], "mark": {"type": "point", "filled": false, "color": "black", "size": 75, "strokeWidth": 2, "opacity": 1}, "encoding": {"y": {"field": "m", "type": "quantitative", "title": "Nociception Score"},
    "shape": {"field": "d", "type": "nominal", "scale": {"domain": ["3 mg/kg", "10mg/kg", "30 mg/kg"], "range": ["circle", "square", "triangle-down"]}, "legend": {"orient": "none", "legendX": 182, "legendY": -24, "title": null, "padding": 0, "rowPadding": -2, "labelFontSize": 12, "labelOffset": 10, "symbolStrokeWidth": 2, "symbolSize": 75, "labelExpr": "datum.label === '3 mg/kg' ? '\u00a03 mg/kg' : datum.label"}},
    "fill": {"field": "d", "type": "nominal", "scale": {"domain": ["3 mg/kg", "10mg/kg", "30 mg/kg"], "range": ["white", "black", "white"]}, "legend": {"orient": "none", "legendX": 182, "legendY": -24, "title": null, "padding": 0, "rowPadding": -2, "labelFontSize": 12, "labelOffset": 10, "symbolStrokeWidth": 2, "symbolSize": 75, "labelExpr": "datum.label === '3 mg/kg' ? '\u00a03 mg/kg' : datum.label"}}}}
 ]
},
{"width": 1, "height": 1, "data": {"name": "blank"}, "mark": {"type": "text"}, "encoding": {"text": {"field": "h"}}},

{"width": 1, "height": 66, "data": {"name": "blank"}, "mark": {"type": "text"}, "encoding": {"text": {"field": "h"}}},
{"width": 1, "height": 1, "data": {"name": "blank"}, "mark": {"type": "text"}, "encoding": {"text": {"field": "h"}}},
{"width": 1, "height": 1, "data": {"name": "blank"}, "mark": {"type": "text"}, "encoding": {"text": {"field": "h"}}},
{"width": 1, "height": 1, "data": {"name": "blank"}, "mark": {"type": "text"}, "encoding": {"text": {"field": "h"}}},
{"width": 1, "height": 1, "data": {"name": "blank"}, "mark": {"type": "text"}, "encoding": {"text": {"field": "h"}}},

{"width": 1, "height": 1, "data": {"name": "blank"}, "mark": {"type": "text"}, "encoding": {"text": {"field": "h"}}},
{
 "width": 225, "height": 150, "title": {"text": "Ten Day Old", "offset": -7},
 "encoding": {"x": {"field": "b", "type": "quantitative", "scale": {"domain": [0, 15], "nice": false}, "axis": {"values": [0,1,2,3,4,5,6,7,8,9,10,11,12,13,14,15], "title": null}}},
 "layer": [
  {"data": {"name": "band"}, "transform": [{"filter": {"field": "p", "equal": "NS10"}}], "mark": {"type": "area", "color": "#e4e4e4"}, "encoding": {"y": {"field": "lo", "type": "quantitative", "scale": {"domain": [0, 4], "nice": false}, "axis": {"values": [0,1,2,3,4]}, "title": "Nociception Score"}, "y2": {"field": "hi"}}},
  {"data": {"name": "band"}, "transform": [{"filter": {"field": "p", "equal": "NS10"}}], "mark": {"type": "line", "color": "#333", "strokeWidth": 1, "strokeDash": [4, 3]}, "encoding": {"y": {"field": "hi", "type": "quantitative", "title": "Nociception Score"}}},
  {"data": {"name": "band"}, "transform": [{"filter": {"field": "p", "equal": "NS10"}}], "mark": {"type": "line", "color": "#333", "strokeWidth": 1, "strokeDash": [4, 3]}, "encoding": {"y": {"field": "lo", "type": "quantitative", "title": "Nociception Score"}}},
  {"data": {"name": "band"}, "transform": [{"filter": {"field": "p", "equal": "NS10"}}], "mark": {"type": "line", "color": "#333", "strokeWidth": 1.3, "strokeDash": [1.5, 2.5]}, "encoding": {"y": {"field": "mid", "type": "quantitative", "title": "Nociception Score"}}},
  {"data": {"name": "drug"}, "transform": [{"filter": {"field": "p", "equal": "NS10"}}], "mark": {"type": "line", "color": "black", "strokeWidth": 1.5}, "encoding": {"y": {"field": "m", "type": "quantitative", "title": "Nociception Score"}, "detail": {"field": "d"}}},
  {"data": {"name": "drug"}, "transform": [{"filter": {"field": "p", "equal": "NS10"}}], "mark": {"type": "rule", "color": "black", "strokeWidth": 1.5}, "encoding": {"y": {"field": "m", "type": "quantitative", "title": "Nociception Score"}, "y2": {"field": "u"}}},
  {"data": {"name": "drug"}, "transform": [{"filter": {"field": "p", "equal": "NS10"}}], "mark": {"type": "tick", "orient": "horizontal", "size": 7, "thickness": 1.5, "color": "black"}, "encoding": {"y": {"field": "u", "type": "quantitative", "title": "Nociception Score"}}},
  {"data": {"name": "drug"}, "transform": [{"filter": {"field": "p", "equal": "NS10"}}], "mark": {"type": "point", "filled": false, "color": "black", "size": 75, "strokeWidth": 2, "opacity": 1}, "encoding": {"y": {"field": "m", "type": "quantitative", "title": "Nociception Score"},
    "shape": {"field": "d", "type": "nominal", "scale": {"domain": ["3 mg/kg", "10mg/kg", "30 mg/kg"], "range": ["circle", "square", "triangle-down"]}, "legend": null},
    "fill": {"field": "d", "type": "nominal", "scale": {"domain": ["3 mg/kg", "10mg/kg", "30 mg/kg"], "range": ["white", "black", "white"]}, "legend": null}}}
 ]
},
{"width": 1, "height": 1, "data": {"name": "blank"}, "mark": {"type": "text"}, "encoding": {"text": {"field": "h"}}},
{
 "width": 225, "height": 150, "title": {"text": "Ten Day Old", "offset": -7},
 "encoding": {"x": {"field": "b", "type": "quantitative", "scale": {"domain": [0, 15], "nice": false}, "axis": {"values": [0,1,2,3,4,5,6,7,8,9,10,11,12,13,14,15], "title": null}}},
 "layer": [
  {"data": {"name": "band"}, "transform": [{"filter": {"field": "p", "equal": "SC10"}}], "mark": {"type": "area", "color": "#e4e4e4"}, "encoding": {"y": {"field": "lo", "type": "quantitative", "scale": {"domain": [0, 4], "nice": false}, "axis": {"values": [0,1,2,3,4]}, "title": "Nociception Score"}, "y2": {"field": "hi"}}},
  {"data": {"name": "band"}, "transform": [{"filter": {"field": "p", "equal": "SC10"}}], "mark": {"type": "line", "color": "#333", "strokeWidth": 1, "strokeDash": [4, 3]}, "encoding": {"y": {"field": "hi", "type": "quantitative", "title": "Nociception Score"}}},
  {"data": {"name": "band"}, "transform": [{"filter": {"field": "p", "equal": "SC10"}}], "mark": {"type": "line", "color": "#333", "strokeWidth": 1, "strokeDash": [4, 3]}, "encoding": {"y": {"field": "lo", "type": "quantitative", "title": "Nociception Score"}}},
  {"data": {"name": "band"}, "transform": [{"filter": {"field": "p", "equal": "SC10"}}], "mark": {"type": "line", "color": "#333", "strokeWidth": 1.3, "strokeDash": [1.5, 2.5]}, "encoding": {"y": {"field": "mid", "type": "quantitative", "title": "Nociception Score"}}},
  {"data": {"name": "drug"}, "transform": [{"filter": {"field": "p", "equal": "SC10"}}], "mark": {"type": "line", "color": "black", "strokeWidth": 1.5}, "encoding": {"y": {"field": "m", "type": "quantitative", "title": "Nociception Score"}, "detail": {"field": "d"}}},
  {"data": {"name": "drug"}, "transform": [{"filter": {"field": "p", "equal": "SC10"}}], "mark": {"type": "rule", "color": "black", "strokeWidth": 1.5}, "encoding": {"y": {"field": "m", "type": "quantitative", "title": "Nociception Score"}, "y2": {"field": "u"}}},
  {"data": {"name": "drug"}, "transform": [{"filter": {"field": "p", "equal": "SC10"}}], "mark": {"type": "tick", "orient": "horizontal", "size": 7, "thickness": 1.5, "color": "black"}, "encoding": {"y": {"field": "u", "type": "quantitative", "title": "Nociception Score"}}},
  {"data": {"name": "drug"}, "transform": [{"filter": {"field": "p", "equal": "SC10"}}], "mark": {"type": "point", "filled": false, "color": "black", "size": 75, "strokeWidth": 2, "opacity": 1}, "encoding": {"y": {"field": "m", "type": "quantitative", "title": "Nociception Score"},
    "shape": {"field": "d", "type": "nominal", "scale": {"domain": ["3 mg/kg", "10mg/kg", "30 mg/kg"], "range": ["circle", "square", "triangle-down"]}, "legend": null},
    "fill": {"field": "d", "type": "nominal", "scale": {"domain": ["3 mg/kg", "10mg/kg", "30 mg/kg"], "range": ["white", "black", "white"]}, "legend": null}}}
 ]
},
{"width": 1, "height": 1, "data": {"name": "blank"}, "mark": {"type": "text"}, "encoding": {"text": {"field": "h"}}},

{"width": 1, "height": 78, "data": {"name": "blank"}, "mark": {"type": "text"}, "encoding": {"text": {"field": "h"}}},
{"width": 1, "height": 1, "data": {"name": "blank"}, "mark": {"type": "text"}, "encoding": {"text": {"field": "h"}}},
{"width": 1, "height": 1, "data": {"name": "blank"}, "mark": {"type": "text"}, "encoding": {"text": {"field": "h"}}},
{"width": 1, "height": 1, "data": {"name": "blank"}, "mark": {"type": "text"}, "encoding": {"text": {"field": "h"}}},
{"width": 1, "height": 1, "data": {"name": "blank"}, "mark": {"type": "text"}, "encoding": {"text": {"field": "h"}}},

{"width": 1, "height": 1, "data": {"name": "blank"}, "mark": {"type": "text"}, "encoding": {"text": {"field": "h"}}},
{
 "width": 225, "height": 150, "title": {"text": "Twenty-one Day Old", "offset": -7},
 "encoding": {"x": {"field": "b", "type": "quantitative", "scale": {"domain": [0, 15], "nice": false}, "axis": {"values": [0,1,2,3,4,5,6,7,8,9,10,11,12,13,14,15], "title": "3 Minute Bins"}}},
 "layer": [
  {"data": {"name": "band"}, "transform": [{"filter": {"field": "p", "equal": "NS21"}}], "mark": {"type": "area", "color": "#e4e4e4"}, "encoding": {"y": {"field": "lo", "type": "quantitative", "scale": {"domain": [0, 4], "nice": false}, "axis": {"values": [0,1,2,3,4]}, "title": "Nociception Score"}, "y2": {"field": "hi"}}},
  {"data": {"name": "band"}, "transform": [{"filter": {"field": "p", "equal": "NS21"}}], "mark": {"type": "line", "color": "#333", "strokeWidth": 1, "strokeDash": [4, 3]}, "encoding": {"y": {"field": "hi", "type": "quantitative", "title": "Nociception Score"}}},
  {"data": {"name": "band"}, "transform": [{"filter": {"field": "p", "equal": "NS21"}}], "mark": {"type": "line", "color": "#333", "strokeWidth": 1, "strokeDash": [4, 3]}, "encoding": {"y": {"field": "lo", "type": "quantitative", "title": "Nociception Score"}}},
  {"data": {"name": "band"}, "transform": [{"filter": {"field": "p", "equal": "NS21"}}], "mark": {"type": "line", "color": "#333", "strokeWidth": 1.3, "strokeDash": [1.5, 2.5]}, "encoding": {"y": {"field": "mid", "type": "quantitative", "title": "Nociception Score"}}},
  {"data": {"name": "drug"}, "transform": [{"filter": {"field": "p", "equal": "NS21"}}], "mark": {"type": "line", "color": "black", "strokeWidth": 1.5}, "encoding": {"y": {"field": "m", "type": "quantitative", "title": "Nociception Score"}, "detail": {"field": "d"}}},
  {"data": {"name": "drug"}, "transform": [{"filter": {"field": "p", "equal": "NS21"}}], "mark": {"type": "rule", "color": "black", "strokeWidth": 1.5}, "encoding": {"y": {"field": "m", "type": "quantitative", "title": "Nociception Score"}, "y2": {"field": "u"}}},
  {"data": {"name": "drug"}, "transform": [{"filter": {"field": "p", "equal": "NS21"}}], "mark": {"type": "tick", "orient": "horizontal", "size": 7, "thickness": 1.5, "color": "black"}, "encoding": {"y": {"field": "u", "type": "quantitative", "title": "Nociception Score"}}},
  {"data": {"name": "drug"}, "transform": [{"filter": {"field": "p", "equal": "NS21"}}], "mark": {"type": "point", "filled": false, "color": "black", "size": 75, "strokeWidth": 2, "opacity": 1}, "encoding": {"y": {"field": "m", "type": "quantitative", "title": "Nociception Score"},
    "shape": {"field": "d", "type": "nominal", "scale": {"domain": ["3 mg/kg", "10mg/kg", "30 mg/kg"], "range": ["circle", "square", "triangle-down"]}, "legend": null},
    "fill": {"field": "d", "type": "nominal", "scale": {"domain": ["3 mg/kg", "10mg/kg", "30 mg/kg"], "range": ["white", "black", "white"]}, "legend": null}}}
 ]
},
{"width": 1, "height": 1, "data": {"name": "blank"}, "mark": {"type": "text"}, "encoding": {"text": {"field": "h"}}},
{
 "width": 225, "height": 150, "title": {"text": "Twenty-one Day Old", "offset": -7},
 "encoding": {"x": {"field": "b", "type": "quantitative", "scale": {"domain": [0, 15], "nice": false}, "axis": {"values": [0,1,2,3,4,5,6,7,8,9,10,11,12,13,14,15], "title": "3 Minute Bins"}}},
 "layer": [
  {"data": {"name": "band"}, "transform": [{"filter": {"field": "p", "equal": "SC21"}}], "mark": {"type": "area", "color": "#e4e4e4"}, "encoding": {"y": {"field": "lo", "type": "quantitative", "scale": {"domain": [0, 4], "nice": false}, "axis": {"values": [0,1,2,3,4]}, "title": "Nociception Score"}, "y2": {"field": "hi"}}},
  {"data": {"name": "band"}, "transform": [{"filter": {"field": "p", "equal": "SC21"}}], "mark": {"type": "line", "color": "#333", "strokeWidth": 1, "strokeDash": [4, 3]}, "encoding": {"y": {"field": "hi", "type": "quantitative", "title": "Nociception Score"}}},
  {"data": {"name": "band"}, "transform": [{"filter": {"field": "p", "equal": "SC21"}}], "mark": {"type": "line", "color": "#333", "strokeWidth": 1, "strokeDash": [4, 3]}, "encoding": {"y": {"field": "lo", "type": "quantitative", "title": "Nociception Score"}}},
  {"data": {"name": "band"}, "transform": [{"filter": {"field": "p", "equal": "SC21"}}], "mark": {"type": "line", "color": "#333", "strokeWidth": 1.3, "strokeDash": [1.5, 2.5]}, "encoding": {"y": {"field": "mid", "type": "quantitative", "title": "Nociception Score"}}},
  {"data": {"name": "drug"}, "transform": [{"filter": {"field": "p", "equal": "SC21"}}], "mark": {"type": "line", "color": "black", "strokeWidth": 1.5}, "encoding": {"y": {"field": "m", "type": "quantitative", "title": "Nociception Score"}, "detail": {"field": "d"}}},
  {"data": {"name": "drug"}, "transform": [{"filter": {"field": "p", "equal": "SC21"}}], "mark": {"type": "rule", "color": "black", "strokeWidth": 1.5}, "encoding": {"y": {"field": "m", "type": "quantitative", "title": "Nociception Score"}, "y2": {"field": "u"}}},
  {"data": {"name": "drug"}, "transform": [{"filter": {"field": "p", "equal": "SC21"}}], "mark": {"type": "tick", "orient": "horizontal", "size": 7, "thickness": 1.5, "color": "black"}, "encoding": {"y": {"field": "u", "type": "quantitative", "title": "Nociception Score"}}},
  {"data": {"name": "drug"}, "transform": [{"filter": {"field": "p", "equal": "SC21"}}], "mark": {"type": "point", "filled": false, "color": "black", "size": 75, "strokeWidth": 2, "opacity": 1}, "encoding": {"y": {"field": "m", "type": "quantitative", "title": "Nociception Score"},
    "shape": {"field": "d", "type": "nominal", "scale": {"domain": ["3 mg/kg", "10mg/kg", "30 mg/kg"], "range": ["circle", "square", "triangle-down"]}, "legend": null},
    "fill": {"field": "d", "type": "nominal", "scale": {"domain": ["3 mg/kg", "10mg/kg", "30 mg/kg"], "range": ["white", "black", "white"]}, "legend": null}}}
 ]
},
{"width": 1, "height": 1, "data": {"name": "blank"}, "mark": {"type": "text"}, "encoding": {"text": {"field": "h"}}},

{"width": 1, "height": 69, "data": {"name": "blank"}, "mark": {"type": "text"}, "encoding": {"text": {"field": "h"}}},
{"width": 1, "height": 1, "data": {"name": "blank"}, "mark": {"type": "text"}, "encoding": {"text": {"field": "h"}}},
{"width": 1, "height": 1, "data": {"name": "blank"}, "mark": {"type": "text"}, "encoding": {"text": {"field": "h"}}},
{"width": 1, "height": 1, "data": {"name": "blank"}, "mark": {"type": "text"}, "encoding": {"text": {"field": "h"}}},
{"width": 1, "height": 1, "data": {"name": "blank"}, "mark": {"type": "text"}, "encoding": {"text": {"field": "h"}}},

{"width": 56, "height": 43, "view": {"fill": "#f3f8f0", "stroke": null}, "data": {"name": "blank"}, "mark": {"type": "text"}, "encoding": {"text": {"field": "h"}}},
{"width": 225, "height": 43, "view": {"fill": "#f3f8f0", "stroke": null}, "data": {"name": "blank"}, "mark": {"type": "text"}, "encoding": {"text": {"field": "h"}}},
{"width": 88, "height": 43, "view": {"fill": "#f3f8f0", "stroke": null}, "data": {"name": "blank"}, "mark": {"type": "text"}, "encoding": {"text": {"field": "h"}}},
{"width": 225, "height": 43, "view": {"fill": "#f3f8f0", "stroke": null}, "data": {"name": "blank"}, "mark": {"type": "text"}, "encoding": {"text": {"field": "h"}}},
{"width": 34, "height": 43, "view": {"fill": "#f3f8f0", "stroke": null}, "data": {"name": "blank"}, "mark": {"type": "text"}, "encoding": {"text": {"field": "h"}}}
],
"config": {
 "font": "Liberation Sans",
 "view": {"stroke": null},
 "axis": {"domainColor": "black", "domainWidth": 2, "tickColor": "black", "tickWidth": 1.5, "grid": false, "labelColor": "black", "labelFont": "Liberation Sans", "labelFontWeight": "bold", "titleFont": "Liberation Sans", "titleFontWeight": "bold", "titleColor": "black", "labelFlush": false, "labelOverlap": false},
 "axisX": {"labelFontSize": 10, "tickSize": 3, "labelPadding": 1, "titleFontSize": 18, "titlePadding": 18, "labelAngle": 0},
 "axisY": {"labelFontSize": 11, "tickSize": 4, "labelPadding": 1, "titleFontSize": 14, "titlePadding": 18},
 "title": {"fontSize": 15, "fontWeight": "normal", "font": "Liberation Sans", "color": "black", "frame": "group", "anchor": "middle"},
 "legend": {"labelFont": "Liberation Sans", "labelColor": "black"}
}
}
